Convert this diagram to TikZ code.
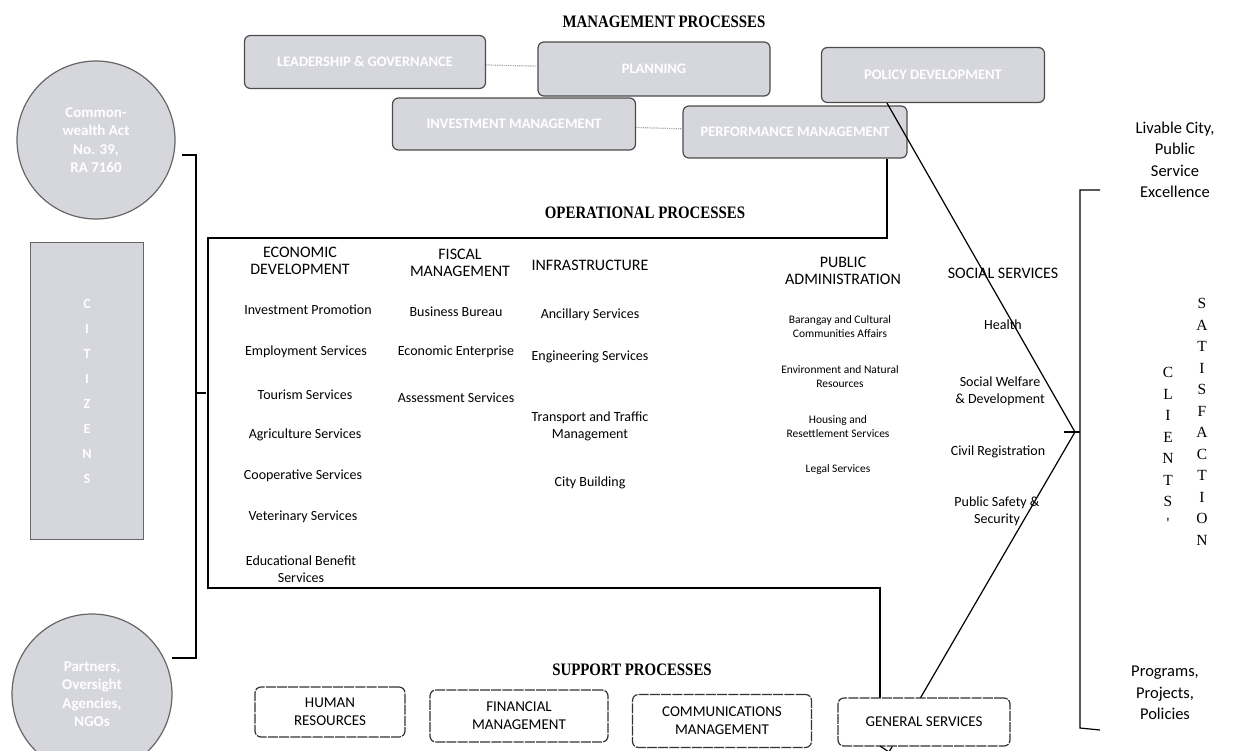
\documentclass[tikz,border=0pt]{standalone}
\usepackage{fontspec}
\setmainfont{Carlito}
\newfontfamily\headfont[FakeStretch=0.85]{Liberation Serif}
\newfontfamily\letterfont{Liberation Serif}
\usetikzlibrary{positioning}
\definecolor{boxgray}{RGB}{214,214,221}

\begin{document}
\begin{tikzpicture}[x=1pt,y=-1pt,-,line width=1.2pt,
  mgmt node/.style={draw=black!70,fill=boxgray,rounded corners=6pt,inner sep=0pt,font=\bfseries\fontsize{14.5}{16}\selectfont,text=white},
  supp node/.style={draw=black!80,fill=white,rounded corners=6pt,dash pattern=on 10pt off 1.2pt,inner sep=0pt,align=center,font=\fontsize{15}{18}\selectfont},
  title node/.style={font=\headfont\bfseries\fontsize{17.5}{20}\selectfont},
  col head/.style={align=center,font=\fontsize{16}{17}\selectfont},
  item/.style={align=center,font=\fontsize{14}{17}\selectfont},
  small item/.style={align=center,font=\fontsize{11.5}{14}\selectfont},
  gray round/.style={circle,draw=black!60,fill=boxgray,align=center,text=white,font=\bfseries\fontsize{15}{18.5}\selectfont},
  side text/.style={align=center,font=\fontsize{16.5}{21.5}\selectfont},
  vert letters/.style={align=center,font=\letterfont\fontsize{15.5}{21.5}\selectfont}]

\useasboundingbox (0,0) rectangle (1233,750);
\begin{scope}
\clip (0,0) rectangle (1233,750);

% management processes
\node[title node] (mtitle) at (664,22) {MANAGEMENT PROCESSES};
\node[mgmt node,minimum width=241pt,minimum height=53pt] (lead) at (365,62) {LEADERSHIP \& GOVERNANCE};
\node[mgmt node,minimum width=232pt,minimum height=54pt] (plan) at (654,69) {PLANNING};
\node[mgmt node,minimum width=223pt,minimum height=55pt] (policy) at (933,75) {POLICY DEVELOPMENT};
\node[mgmt node,minimum width=243pt,minimum height=52pt] (invest) at (514,124) {INVESTMENT MANAGEMENT};
\node[mgmt node,minimum width=224pt,minimum height=52pt] (perf) at (795,132) {PERFORMANCE MANAGEMENT};

\draw[black!35,densely dotted] (lead) to (plan);
\draw[black!35,densely dotted] (invest) to (perf);

% left side
\node[gray round,minimum size=158pt] (law) at (96,140) {Common-\\wealth Act\\No. 39,\\RA 7160};
\node[draw=black!60,fill=boxgray,minimum width=113pt,minimum height=297pt,inner sep=0pt] (cit) at (87,391) {};
\node[align=center,text=white,font=\bfseries\fontsize{14}{25}\selectfont] (citt) at (cit) {C\\I\\T\\I\\Z\\E\\N\\S};
\node[gray round,minimum size=160pt] (partners) at (92,694) {Partners,\\Oversight\\Agencies,\\NGOs};

\draw (182,155) -- (196,155) -- (196,658) -- (172,658);
\draw (196,393) -- (206,393);

% operational processes
\node[title node] (otitle) at (645,213) {OPERATIONAL PROCESSES};

\node[col head] (ed) at (300,261) {ECONOMIC\\DEVELOPMENT};
\node[item] (ed1) at (308,310) {Investment Promotion};
\node[item] (ed2) at (306,352) {Employment Services};
\node[item] (ed3) at (305,395) {Tourism Services};
\node[item] (ed4) at (305,435) {Agriculture Services};
\node[item] (ed5) at (303,476) {Cooperative Services};
\node[item] (ed6) at (303,517) {Veterinary Services};
\node[item] (ed7) at (301,569) {Educational Benefit\\Services};

\node[col head] (fm) at (460,263) {FISCAL\\MANAGEMENT};
\node[item] (fm1) at (456,312) {Business Bureau};
\node[item] (fm2) at (456,352) {Economic Enterprise};
\node[item] (fm3) at (456,398) {Assessment Services};

\node[col head] (inf) at (590,265) {INFRASTRUCTURE};
\node[item] (inf1) at (590,315) {Ancillary Services};
\node[item] (inf2) at (590,357) {Engineering Services};
\node[item] (inf3) at (590,426) {Transport and Traffic\\Management};
\node[item] (inf4) at (590,483) {City Building};

\node[col head] (pa) at (843,271) {PUBLIC\\ADMINISTRATION};
\node[small item] (pa1) at (840,327) {Barangay and Cultural\\Communities Affairs};
\node[small item] (pa2) at (840,377) {Environment and Natural\\Resources};
\node[small item] (pa3) at (838,427) {Housing and\\Resettlement Services};
\node[small item] (pa4) at (838,469) {Legal Services};

\node[col head] (ss) at (1003,273) {SOCIAL SERVICES};
\node[item] (ss1) at (1003,325) {Health};
\node[item] (ss2) at (1000,391) {Social Welfare\\\& Development};
\node[item] (ss3) at (998,452) {Civil Registration};
\node[item] (ss4) at (997,511) {Public Safety \&\\Security};

% support processes
\node[title node] (stitle) at (632,670) {SUPPORT PROCESSES};
\node[supp node,minimum width=150pt,minimum height=50pt] (hr) at (330,712) {HUMAN\\RESOURCES};
\node[supp node,minimum width=178pt,minimum height=52pt] (fin) at (519,716) {FINANCIAL\\MANAGEMENT};
\node[supp node,minimum width=179pt,minimum height=53pt] (comm) at (722,721) {COMMUNICATIONS\\MANAGEMENT};

% operational frame and arrow lines
\coordinate (conv) at (1075,432);
\coordinate (gsv) at (889,752);
\draw ([xshift=92pt]perf.south) -- (887,238) -- (208,238) -- (208,588) -- (880,588) -- (880,700);
\draw ([xshift=-46pt]policy.south) to (conv);
\draw (conv) to (gsv);
\node[supp node,minimum width=172pt,minimum height=48pt] (gs) at (924,722) {GENERAL SERVICES};
\draw (880,746) -- (gsv);

% right side
\draw (1100,190) -- (1080,190) -- (1080,728) -- (1100,730);
\draw (1064,432) -- (1080,432);
\node[side text] (goal) at (1175,160) {Livable City,\\Public\\Service\\Excellence};
\node[side text] (ppp) at (1165,693) {Programs,\\Projects,\\Policies};
\node[vert letters] (clients) at (1168,448) {C\\L\\I\\E\\N\\T\\S\\'};
\node[vert letters] (satis) at (1202,422) {S\\A\\T\\I\\S\\F\\A\\C\\T\\I\\O\\N};
\end{scope}
\end{tikzpicture}
\end{document}
